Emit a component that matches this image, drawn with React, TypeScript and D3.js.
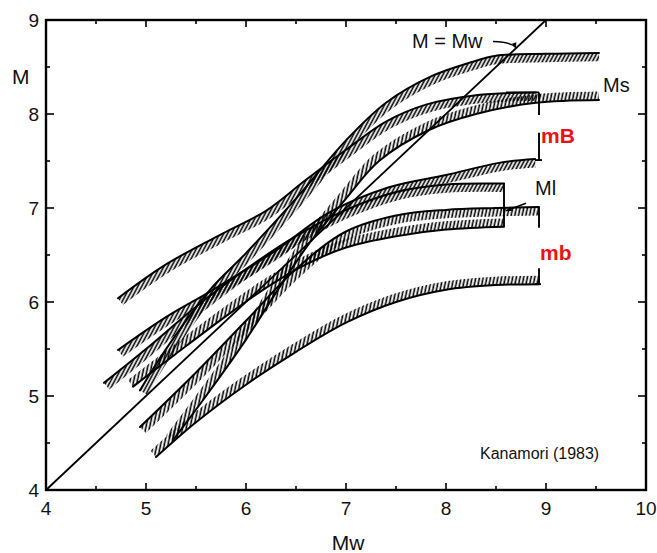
import React from 'react';
import * as d3 from 'd3';

const WIDTH = 657;
const HEIGHT = 553;

// axis domains and ticks
const X_DOMAIN: [number, number] = [4, 10];
const Y_DOMAIN: [number, number] = [4, 9];
const xTickValues = [4, 5, 6, 7, 8, 9, 10];
const xTickLabels = ['4', '5', '6', '7', '8', '9', '10'];
const yTickValues = [4, 5, 6, 7, 8, 9];
const yTickLabels = ['4', '5', '6', '7', '8', '9'];
const minorStep = 0.5;

// magnitude curves: [Mw, M]
const msCurve: [number, number][] = [[4.94, 5.06], [5.2, 5.5], [5.64, 6.13], [6.0, 6.52], [6.5, 7.1], [7.0, 7.72], [7.4, 8.12], [7.85, 8.4], [8.25, 8.55], [8.5, 8.62], [9.0, 8.64], [9.53, 8.65]];
const mjmaCurve: [number, number][] = [[4.72, 6.04], [5.2, 6.4], [5.77, 6.73], [6.2, 6.97], [6.6, 7.3], [7.0, 7.62], [7.4, 7.92], [7.8, 8.1], [8.3, 8.2], [8.9, 8.23]];
const mBLowerCurve: [number, number][] = [[4.72, 5.49], [5.2, 5.84], [5.67, 6.13], [6.3, 6.55], [6.83, 6.95], [7.43, 7.22], [8.0, 7.35], [8.53, 7.48], [8.89, 7.52]];
const mlUpperCurve: [number, number][] = [[4.58, 5.14], [5.0, 5.5], [5.5, 5.95], [6.0, 6.35], [6.5, 6.7], [7.0, 6.98], [7.5, 7.17], [8.0, 7.25], [8.58, 7.26]];
const mlLowerCurve: [number, number][] = [[4.87, 5.1], [5.3, 5.45], [5.8, 5.85], [6.2, 6.15], [6.6, 6.4], [7.0, 6.58], [7.5, 6.7], [8.0, 6.77], [8.58, 6.8]];
const mbUpperCurve: [number, number][] = [[4.94, 4.67], [5.5, 5.25], [6.0, 5.8], [6.5, 6.35], [7.0, 6.75], [7.5, 6.92], [8.0, 6.98], [8.5, 7.0], [8.93, 7.01]];
const mBUpperCurve: [number, number][] = [[5.27, 4.53], [5.6, 5.0], [6.0, 5.6], [6.3, 6.1], [6.63, 6.62], [7.0, 7.1], [7.33, 7.5], [7.83, 7.83], [8.3, 8.0], [8.9, 8.12], [9.53, 8.15]];
const mbLowerCurve: [number, number][] = [[5.1, 4.35], [5.5, 4.72], [6.0, 5.12], [6.5, 5.47], [7.0, 5.78], [7.5, 6.0], [8.0, 6.13], [8.5, 6.18], [8.93, 6.19]];
const mwLine: [number, number][] = [[4, 4], [9, 9]];

const bandCurves = [msCurve, mjmaCurve, mBLowerCurve, mlUpperCurve, mlLowerCurve, mbUpperCurve, mBUpperCurve, mbLowerCurve];
// which side of the solid edge the hatching lies on (+1 below, -1 above)
const bandSides = [1, 1, 1, 1, -1, 1, -1, -1];
const bandPatterns = ['hatchA', 'hatchA', 'hatchA', 'hatchA', 'hatchB', 'hatchB', 'hatchB', 'hatchB'];

// annotation anchors (data coords)
const mBBracket = { x: 8.93, top: 8.23, gapTop: 7.99, gapBottom: 7.8, bottom: 7.51 };
const mbBracket = { x: 8.93, top: 7.01, gapTop: 6.79, gapBottom: 6.36, bottom: 6.19 };
const mlBoxEdge = { x: 8.58, top: 7.26, bottom: 6.8 };
const mBBoxTop = { x0: 8.6, x1: 8.93, y: 8.23 };

const textLabels = [
  { text: 'M = Mw', x: 7.66, y: 8.7, size: 20, weight: 'normal', color: '#111' },
  { text: 'Ms', x: 9.57, y: 8.234, size: 20, weight: 'normal', color: '#111' },
  { text: 'mB', x: 8.95, y: 7.69, size: 21, weight: 'bold', color: '#f01010' },
  { text: 'Ml', x: 8.89, y: 7.14, size: 20, weight: 'normal', color: '#111' },
  { text: 'mb', x: 8.94, y: 6.447, size: 21, weight: 'bold', color: '#f01010' },
  { text: 'Kanamori (1983)', x: 8.34, y: 4.33, size: 16, weight: 'normal', color: '#111' },
];

const FONT = "'Liberation Sans', Arial, Helvetica, sans-serif";

function offsetPts(pts: [number, number][], d: number): [number, number][] {
  return pts.map((p, i) => {
    const a = pts[Math.max(0, i - 1)];
    const b = pts[Math.min(pts.length - 1, i + 1)];
    const tx = b[0] - a[0];
    const ty = b[1] - a[1];
    const L = Math.hypot(tx, ty) || 1;
    return [p[0] - (ty / L) * d, p[1] + (tx / L) * d] as [number, number];
  });
}

export default function App() {
  const margin = { left: 46, right: WIDTH - 646, top: 20, bottom: HEIGHT - 490 };
  const x = d3.scaleLinear().domain(X_DOMAIN).range([margin.left, WIDTH - margin.right]);
  const y = d3.scaleLinear().domain(Y_DOMAIN).range([HEIGHT - margin.bottom, margin.top]);
  const line = d3.line<[number, number]>().x(d => d[0]).y(d => d[1]).curve(d3.curveCatmullRom.alpha(0.5));

  const x0 = x(X_DOMAIN[0]), x1 = x(X_DOMAIN[1]);
  const y0 = y(Y_DOMAIN[0]), y1 = y(Y_DOMAIN[1]);

  const xMinor = d3.range(X_DOMAIN[0] + minorStep, X_DOMAIN[1], minorStep);
  const yMinor = d3.range(Y_DOMAIN[0] + minorStep, Y_DOMAIN[1], minorStep);
  const isMajor = (v: number) => Math.abs(v - Math.round(v)) < 1e-6;

  const arrowHead = (tipX: number, tipY: number, fromX: number, fromY: number, size = 6) => {
    const ang = Math.atan2(tipY - fromY, tipX - fromX);
    const a1 = ang + Math.PI - 0.4, a2 = ang + Math.PI + 0.4;
    return `M${tipX},${tipY} L${tipX + size * Math.cos(a1)},${tipY + size * Math.sin(a1)} L${tipX + size * Math.cos(a2)},${tipY + size * Math.sin(a2)} Z`;
  };

  const mwArrowTip: [number, number] = [x(8.7), y(8.7)];
  const mwArrowStart: [number, number] = [x(8.47), y(8.77)];
  const mlArrowTip: [number, number] = [x(8.6), y(6.97)];
  const mlArrowStart: [number, number] = [x(8.8), y(7.05)];

  return (
    <svg width={WIDTH} height={HEIGHT} style={{ position: 'absolute', left: 0, top: 0, background: '#fff' }} fontFamily={FONT}>
      <defs>
        <pattern id="hatchA" patternUnits="userSpaceOnUse" width={3.4} height={10} patternTransform="rotate(28)">
          <line x1={1.2} y1={0} x2={1.2} y2={10} stroke="#000" strokeWidth={1.6} />
        </pattern>
        <pattern id="hatchB" patternUnits="userSpaceOnUse" width={3.6} height={10} patternTransform="rotate(12)">
          <line x1={1.2} y1={0} x2={1.2} y2={10} stroke="#000" strokeWidth={1.6} />
        </pattern>
      </defs>

      {bandCurves.map((curve, i) => {
        const pts = curve.map(d => [x(d[0]), y(d[1])] as [number, number]);
        const hatchPts = offsetPts(pts, bandSides[i] * 4.4);
        return (
          <g key={i}>
            <path d={line(hatchPts) || ''} fill="none" stroke={`url(#${bandPatterns[i]})`} strokeWidth={8} />
            <path d={line(pts) || ''} fill="none" stroke="#000" strokeWidth={2} strokeLinecap="round" />
          </g>
        );
      })}

      <line x1={x(mwLine[0][0])} y1={y(mwLine[0][1])} x2={x(mwLine[1][0])} y2={y(mwLine[1][1])} stroke="#000" strokeWidth={1.8} />

      <g stroke="#000" strokeWidth={1.9} fill="none">
        <line x1={x(mBBoxTop.x0)} y1={y(mBBoxTop.y)} x2={x(mBBoxTop.x1)} y2={y(mBBoxTop.y)} />
        <line x1={x(mBBracket.x)} y1={y(mBBracket.top)} x2={x(mBBracket.x)} y2={y(mBBracket.gapTop)} />
        <line x1={x(mBBracket.x)} y1={y(mBBracket.gapBottom)} x2={x(mBBracket.x)} y2={y(mBBracket.bottom)} />
        <line x1={x(mBBracket.x) - 4} y1={y(mBBracket.bottom)} x2={x(mBBracket.x) + 3} y2={y(mBBracket.bottom)} />
        <line x1={x(mbBracket.x)} y1={y(mbBracket.top)} x2={x(mbBracket.x)} y2={y(mbBracket.gapTop)} />
        <line x1={x(mbBracket.x)} y1={y(mbBracket.gapBottom)} x2={x(mbBracket.x)} y2={y(mbBracket.bottom)} />
        <line x1={x(mbBracket.x) - 4} y1={y(mbBracket.bottom)} x2={x(mbBracket.x) + 2} y2={y(mbBracket.bottom)} />
        <line x1={x(mlBoxEdge.x)} y1={y(mlBoxEdge.top)} x2={x(mlBoxEdge.x)} y2={y(mlBoxEdge.bottom)} />
      </g>

      <g stroke="#000" strokeWidth={1.5} fill="none">
        <path d={`M${mwArrowStart[0]},${mwArrowStart[1]} Q${mwArrowTip[0] - 2},${mwArrowStart[1] + 1} ${mwArrowTip[0]},${mwArrowTip[1]}`} />
        <line x1={mlArrowStart[0]} y1={mlArrowStart[1]} x2={mlArrowTip[0]} y2={mlArrowTip[1]} />
      </g>
      <path d={arrowHead(mwArrowTip[0], mwArrowTip[1], mwArrowTip[0] - 2, mwArrowStart[1] + 1)} fill="#000" />
      <path d={arrowHead(mlArrowTip[0], mlArrowTip[1], mlArrowStart[0], mlArrowStart[1])} fill="#000" />

      <rect x={x0} y={y1} width={x1 - x0} height={y0 - y1} fill="none" stroke="#000" strokeWidth={2.4} />

      <g stroke="#000" strokeWidth={1.6}>
        {xMinor.map((v, i) => {
          const len = isMajor(v) ? 7 : 4;
          return (
            <g key={'xt' + i}>
              <line x1={x(v)} x2={x(v)} y1={y0} y2={y0 - len} />
              <line x1={x(v)} x2={x(v)} y1={y1} y2={y1 + len} />
            </g>
          );
        })}
        {yMinor.map((v, i) => {
          const len = isMajor(v) ? 8 : 4;
          return (
            <g key={'yt' + i}>
              <line x1={x0} x2={x0 + len} y1={y(v)} y2={y(v)} />
              <line x1={x1} x2={x1 - len} y1={y(v)} y2={y(v)} />
            </g>
          );
        })}
      </g>

      <g fontSize={19} fill="#111">
        {xTickValues.map((v, i) => (
          <text key={'xl' + i} x={x(v)} y={y0 + 25} textAnchor="middle">{xTickLabels[i]}</text>
        ))}
        {yTickValues.map((v, i) => (
          <text key={'yl' + i} x={x0 - 7} y={y(v) + 7} textAnchor="end">{yTickLabels[i]}</text>
        ))}
      </g>

      <text x={(x0 + x1) / 2 + 2} y={550} textAnchor="middle" fontSize={21} fill="#111">Mw</text>
      <text x={12} y={84} fontSize={21} fill="#111">M</text>

      {textLabels.map((t, i) => (
        <text key={'t' + i} x={x(t.x)} y={y(t.y)} fontSize={t.size} fontWeight={t.weight} fill={t.color}>{t.text}</text>
      ))}
    </svg>
  );
}
